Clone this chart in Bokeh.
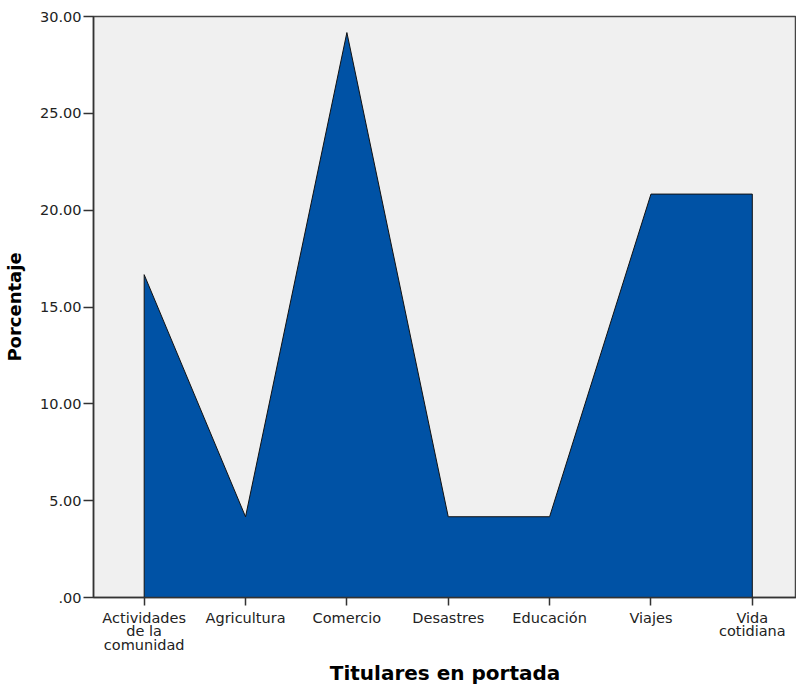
from bokeh.plotting import figure
from bokeh.models import FixedTicker, Range1d
from bokeh.embed import file_html
from bokeh.resources import INLINE

categories = ["Actividades\nde la\ncomunidad", "Agricultura", "Comercio", "Desastres",
              "Educación", "Viajes", "Vida\ncotidiana"]
values = [16.67, 4.17, 29.17, 4.17, 4.17, 20.83, 20.83]
y_ticks = [0, 5, 10, 15, 20, 25, 30]
y_tick_labels = [".00", "5.00", "10.00", "15.00", "20.00", "25.00", "30.00"]

xs = list(range(len(categories)))

p = figure(width=796, height=687, output_backend="svg", toolbar_location=None,
           x_range=Range1d(-0.5, 6.436), y_range=Range1d(0, 30),
           min_border_left=92, min_border_top=16, min_border_right=0, min_border_bottom=89)

p.background_fill_color = "#f0f0f0"
p.border_fill_color = "white"
p.outline_line_color = "#444444"
p.outline_line_width = 1.5
p.xgrid.visible = False
p.ygrid.visible = False

px = [xs[0]] + xs + [xs[-1]]
py = [0] + values + [0]
p.patch(px, py, fill_color="#0052a5", line_color="#111111", line_width=1)

p.xaxis.ticker = FixedTicker(ticks=xs)
p.xaxis.major_label_overrides = {i: c for i, c in zip(xs, categories)}
p.yaxis.ticker = FixedTicker(ticks=y_ticks)
p.yaxis.major_label_overrides = {t: l for t, l in zip(y_ticks, y_tick_labels)}

for ax in (p.xaxis[0], p.yaxis[0]):
    ax.axis_line_color = "#333333"
    ax.axis_line_width = 1.5
    ax.major_tick_line_color = "#333333"
    ax.major_tick_line_width = 1.5
    ax.minor_tick_line_color = None
    ax.major_tick_in = 0
    ax.major_label_text_font = "DejaVu Sans"
    ax.major_label_text_font_size = "14.5px"
    ax.major_label_text_color = "#222222"
    ax.major_label_text_line_height = 0.85
    ax.axis_label_text_font = "DejaVu Sans"
    ax.axis_label_text_font_style = "bold"
    ax.axis_label_text_color = "black"

p.xaxis.major_tick_out = 8
p.xaxis.major_label_standoff = 4
p.xaxis.axis_label = "Titulares en portada"
p.xaxis.axis_label_text_font_size = "20px"
p.xaxis.axis_label_standoff = 5
p.yaxis.major_tick_out = 10
p.yaxis.major_label_standoff = 2
p.yaxis.axis_label = "Porcentaje"
p.yaxis.axis_label_text_font_size = "18px"
p.yaxis.axis_label_standoff = 12

open("out.html", "w").write(file_html(p, INLINE))
